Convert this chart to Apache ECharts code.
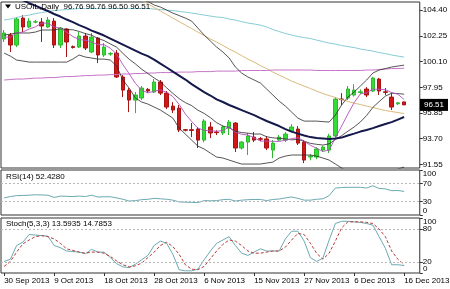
<!DOCTYPE html>
<html><head><meta charset="utf-8">
<script src="https://cdn.jsdelivr.net/npm/echarts@6/dist/echarts.min.js"></script>
<style>html,body{margin:0;padding:0;background:#fff}#c{width:450px;height:289px}</style>
</head><body><div id="c"></div>
<script>
// ---- categories (trading days) ----
const dates = ['30 Sep 2013','1 Oct 2013','2 Oct 2013','3 Oct 2013','4 Oct 2013','6 Oct 2013','7 Oct 2013','8 Oct 2013','9 Oct 2013','10 Oct 2013',
'11 Oct 2013','13 Oct 2013','14 Oct 2013','15 Oct 2013','16 Oct 2013','17 Oct 2013','18 Oct 2013','20 Oct 2013','21 Oct 2013','22 Oct 2013',
'23 Oct 2013','24 Oct 2013','25 Oct 2013','27 Oct 2013','28 Oct 2013','29 Oct 2013','30 Oct 2013','31 Oct 2013','1 Nov 2013','3 Nov 2013',
'4 Nov 2013','5 Nov 2013','6 Nov 2013','7 Nov 2013','8 Nov 2013','10 Nov 2013','11 Nov 2013','12 Nov 2013','13 Nov 2013','14 Nov 2013',
'15 Nov 2013','18 Nov 2013','19 Nov 2013','20 Nov 2013','21 Nov 2013','22 Nov 2013','25 Nov 2013','26 Nov 2013','27 Nov 2013','28 Nov 2013',
'29 Nov 2013','1 Dec 2013','2 Dec 2013','3 Dec 2013','4 Dec 2013','5 Dec 2013','6 Dec 2013','8 Dec 2013','9 Dec 2013','10 Dec 2013',
'11 Dec 2013','12 Dec 2013','13 Dec 2013','15 Dec 2013','16 Dec 2013'];
const emptySlots = ['', ''];

// ---- OHLC ----
const open = [101.99,102.32,101.49,103.73,102.99,103.40,103.40,102.99,103.48,101.49,
102.82,101.36,101.32,102.24,100.91,102.07,100.66,100.74,100.82,98.83,
97.74,96.91,97.08,97.80,97.58,98.41,97.49,96.41,96.24,94.45,
94.45,94.50,93.58,94.67,94.25,94.17,94.58,95.00,92.92,93.42,
93.83,93.70,93.68,92.75,93.58,93.58,94.33,94.50,93.42,92.17,
92.17,92.75,92.75,93.92,97.00,97.08,97.33,97.55,97.83,97.66,
98.66,97.60,97.16,96.60,96.76];
const high = [102.74,102.49,103.82,103.98,103.73,103.57,103.73,103.82,103.73,102.99,
102.90,101.45,102.57,102.49,102.49,102.15,101.65,100.90,101.07,98.99,
97.91,97.58,98.08,97.91,98.66,98.58,97.66,96.74,96.50,94.50,
95.00,94.67,95.33,95.08,94.40,94.80,95.25,95.08,93.50,94.17,
94.25,93.83,93.92,93.58,94.00,94.25,94.90,94.75,93.58,92.40,
93.00,93.10,94.10,97.16,97.49,98.08,98.24,97.80,97.99,98.83,
98.75,97.91,97.49,96.75,96.76];
const low = [101.74,100.91,101.32,102.57,102.90,103.30,101.74,102.90,101.24,101.24,
100.49,101.20,101.24,101.07,100.82,99.99,100.49,100.60,98.75,97.16,
95.91,95.83,96.91,97.50,97.49,97.33,96.16,95.83,94.25,94.30,
93.83,92.92,93.40,93.75,94.00,94.00,94.00,92.59,92.80,92.34,
93.42,93.50,92.75,92.08,93.50,93.42,94.20,93.17,91.67,91.90,
92.00,92.60,92.50,93.83,96.50,96.91,97.20,97.40,97.16,97.58,
97.33,97.33,96.08,96.50,96.50];
const close = [102.49,101.49,103.65,102.99,103.48,103.42,103.07,103.57,101.49,102.90,
101.74,101.28,102.24,101.24,102.15,100.66,101.32,100.78,98.83,97.74,
96.91,97.33,97.91,97.66,98.41,97.49,96.33,96.08,94.42,94.40,
94.38,93.58,95.17,94.17,94.20,94.67,95.08,92.92,93.42,93.92,
93.58,93.65,92.92,93.33,93.83,94.08,94.67,93.33,91.92,92.25,
92.84,93.00,93.92,96.99,96.95,97.83,97.74,97.60,97.33,98.74,
97.66,97.55,96.33,96.68,96.51];

// ---- main panel indicator lines ----
const maCyan = [103.57,103.65,103.78,103.90,103.98,104.11,104.19,104.28,104.36,104.40,
104.44,104.48,104.53,104.53,104.53,104.53,104.53,104.53,104.53,104.53,
104.53,104.53,104.53,104.53,104.48,104.44,104.40,104.36,104.28,104.23,
104.15,104.07,103.98,103.90,103.82,103.78,103.65,103.57,103.44,103.32,
103.24,103.15,102.99,102.78,102.61,102.45,102.32,102.20,102.11,102.03,
101.90,101.78,101.65,101.57,101.45,101.36,101.28,101.16,101.07,100.99,
100.86,100.78,100.66,100.57,100.49];
const maTan = [null,null,null,null,null,null,null,null,null,null,
null,null,null,null,null,null,null,null,null,null,
null,105.56,105.23,104.92,104.62,104.32,104.03,103.73,103.44,103.15,
102.86,102.57,102.28,101.99,101.74,101.45,101.16,100.91,100.61,100.32,
100.07,99.78,99.53,99.24,98.99,98.74,98.49,98.28,98.08,97.87,
97.66,97.45,97.29,97.12,96.95,96.79,96.66,96.54,96.41,96.29,
96.16,96.04,95.96,95.87,95.79];
const maMagenta = [98.58,98.62,98.66,98.66,98.70,98.74,98.74,98.78,98.78,98.83,
98.87,98.87,98.91,98.95,98.95,98.99,98.99,99.03,99.03,99.08,
99.08,99.12,99.12,99.16,99.16,99.20,99.20,99.20,99.24,99.24,
99.24,99.28,99.28,99.28,99.32,99.32,99.32,99.32,99.37,99.37,
99.37,99.37,99.37,99.41,99.41,99.41,99.41,99.41,99.41,99.41,
99.37,99.37,99.37,99.37,99.37,99.37,99.37,99.37,99.41,99.41,
99.45,99.49,99.53,99.53,99.57];
const bbMid = [105.90,105.69,105.44,105.23,104.98,104.77,104.53,104.32,104.07,103.86,
103.61,103.40,103.15,102.94,102.69,102.49,102.28,102.03,101.78,101.53,
101.28,101.03,100.78,100.57,100.28,99.95,99.62,99.28,98.95,98.62,
98.24,97.91,97.58,97.29,96.97,96.75,96.50,96.29,96.08,95.87,
95.66,95.41,95.17,94.96,94.75,94.50,94.29,94.12,93.96,93.83,
93.75,93.71,93.67,93.71,93.79,93.96,94.12,94.29,94.42,94.58,
94.75,94.92,95.08,95.29,95.50];
const bbUpper = [null,null,null,null,null,null,null,null,null,null,
null,null,null,null,null,null,null,null,null,null,
null,105.48,105.32,105.11,104.82,104.65,104.40,104.15,103.94,103.73,
103.48,102.90,102.32,101.82,101.32,100.91,100.41,99.66,99.16,98.83,
98.58,98.33,97.83,97.33,96.83,96.41,95.91,95.41,95.16,95.16,
95.16,95.12,95.08,95.66,96.50,97.16,97.58,98.08,98.58,99.16,
99.41,99.53,99.66,99.74,99.82];
const bbLower = [100.82,100.57,100.24,100.16,100.07,100.07,100.07,100.07,100.07,100.07,
100.07,100.32,100.66,100.49,100.41,100.32,100.32,100.24,99.74,98.58,
97.91,97.08,96.75,96.58,96.33,96.08,95.75,95.41,94.58,94.08,
93.58,93.08,92.84,92.50,92.17,92.09,91.92,91.75,91.59,91.59,
91.59,91.59,91.67,91.75,92.09,92.25,92.34,92.34,92.34,92.34,
92.25,92.09,91.92,91.59,91.26,90.92,90.67,90.50,90.42,90.42,
90.50,90.67,90.92,91.17,91.34];
const maFast = [102.15,102.15,102.49,102.57,102.82,103.00,103.32,103.30,103.00,102.89,
102.55,102.20,101.94,101.89,101.74,101.52,101.52,101.22,100.74,99.86,
99.11,98.31,97.74,97.51,97.64,97.76,97.56,97.20,96.55,95.75,
95.13,94.58,94.40,94.35,94.32,94.37,94.67,94.22,94.07,94.00,
93.78,93.50,93.50,93.48,93.47,93.57,93.70,93.78,93.50,93.15,
92.90,92.64,92.75,93.77,94.75,95.75,96.70,97.43,97.51,97.82,
97.81,97.78,97.53,97.40,96.95];
const maSlow = [102.32,102.40,102.49,102.49,102.49,102.57,102.74,102.74,102.74,102.85,
102.78,102.76,102.62,102.44,102.31,102.04,101.86,101.58,101.31,100.80,
100.31,99.92,99.48,99.12,98.75,98.43,97.93,97.47,97.03,96.70,
96.45,96.07,95.80,95.45,95.03,94.75,94.62,94.31,94.21,94.16,
94.08,94.09,93.86,93.77,93.73,93.68,93.60,93.64,93.49,93.31,
93.23,93.17,93.27,93.63,93.95,94.32,94.67,95.09,95.63,96.30,
96.78,97.24,97.48,97.45,97.40];

// ---- oscillators ----
const rsi = [38,41,43,43.5,44,45,44.5,44,39,42,
41.5,41,42,41,44,40,40.5,40.5,38,35,
31,32,34,35,37,36,35,33,29,28.5,
28,27.5,32,31.5,32,34,35,31,33,34,
34.5,34.5,32,34.5,35.5,38,40,37,33,33,
35,36,43,60,61,61.5,61.5,61.5,60,65,
59,58,54,54.5,52.43];
const stochK = [21,25,50,56,70,69,68,67,50,46,
40,39,38,35,43,38,38,28,17,11,
10,16,24,32,50,58,54,34,6,4,
4,7,24,40,54,60,66,50,36,32,
38,44,40,40,40,62,76,76,58,28,
21,27,60,90,94,94,93,92,90,87,
66,45,15,15,13.59];
const stochD = [12,21,38,53,60,66,68,66,62,54,
44,41,38,36,38,38,36,30,22,15,
11,13,18,28,38,50,56,48,34,15,
7,6,12,26,40,52,60,58,50,40,
36,36,38,40,40,47,60,72,70,54,
36,25,36,58,82,93,93,93,92,90,
80,66,40,25,14.79];

// ---- ticks / levels / texts ----
const priceTicks = [91.55, 93.70, 95.85, 97.95, 100.10, 102.25, 104.40];
const rsiTicks = [0, 30, 70, 100];
const rsiLevels = [30, 70];
const stochInnerTicks = [20, 80];
const stochEdgeTicks = [0, 100];
const stochLevels = [20, 80];
const headerText = 'USOIL,Daily  96.76 96.76 96.50 96.51';
const rsiText = 'RSI(14) 52.4280';
const stochText = 'Stoch(5,3,3) 13.5935 14.7853';

const FONT = '"Liberation Sans", Arial, sans-serif';
const FS = 8;
const cats = dates.concat(emptySlots);
const chart = echarts.init(document.getElementById('c'), null, {renderer: 'canvas'});

const gridBase = {left: 1, width: 418.75, show: true, borderColor: '#333', borderWidth: 1, outerBoundsMode: 'none'};
const grids = [
  Object.assign({top: 2, height: 166}, gridBase),
  Object.assign({top: 170, height: 45}, gridBase),
  Object.assign({top: 218, height: 55}, gridBase)
];

const xAxes = [0, 1, 2].map(k => ({
  type: 'category', gridIndex: k, data: cats, boundaryGap: true,
  axisLine: {show: false},
  axisTick: {show: k === 2, interval: 7, alignWithLabel: true, length: 3, lineStyle: {color: '#333'}},
  axisLabel: {show: k === 2, interval: 7, align: 'left', margin: 4, fontSize: FS, color: '#000', fontFamily: FONT},
  splitLine: {show: false}
}));

function yAx(k, min, max, ticks, labelTicks, fmt) {
  return {
    type: 'value', gridIndex: k, position: 'right', min: min, max: max,
    axisLine: {show: false},
    axisTick: {show: true, length: 3, customValues: ticks, lineStyle: {color: '#333'}},
    axisLabel: {customValues: labelTicks, formatter: fmt, margin: 3, fontSize: FS, color: '#000', fontFamily: FONT,
      hideOverlap: false, showMinLabel: true, showMaxLabel: true,
      verticalAlignMinLabel: k === 1 ? 'bottom' : 'middle', verticalAlignMaxLabel: k === 1 ? 'top' : 'middle'},
    splitLine: {show: false}
  };
}
const yAxes = [
  yAx(0, 91.26, 105.07, priceTicks, priceTicks, v => v.toFixed(2)),
  yAx(1, 0, 100, rsiTicks, rsiTicks, v => String(v)),
  yAx(2, 0, 100, stochInnerTicks.concat(stochEdgeTicks), stochInnerTicks, v => String(v))
];

function line(data, color, width, z, extra) {
  return Object.assign({type: 'line', xAxisIndex: 0, yAxisIndex: 0, data: data, symbol: 'none', silent: true,
    clip: true, z: z, lineStyle: {color: color, width: width}, connectNulls: false}, extra || {});
}
function levels(vals) {
  return {silent: true, symbol: 'none', label: {show: false}, animation: false,
    lineStyle: {type: [2, 2], color: '#b8b8b8', width: 1}, data: vals.map(v => ({yAxis: v}))};
}

const ohlc = open.map((o, i) => [o, close[i], low[i], high[i]]);

const option = {
  animation: false,
  backgroundColor: '#ffffff',
  grid: grids,
  xAxis: xAxes,
  yAxis: yAxes,
  series: [
    {type: 'candlestick', xAxisIndex: 0, yAxisIndex: 0, data: ohlc, barWidth: 4, z: 2, silent: true,
      itemStyle: {color: '#33dd33', color0: '#d01818', borderColor: '#2fb82f', borderColor0: '#a81414', borderWidth: 1}},
    line(maCyan, '#86cdd6', 1, 3),
    line(maTan, '#d9b97c', 1, 3),
    line(maMagenta, '#c774c8', 1, 3),
    line(bbUpper, '#2a2a2a', 0.8, 4),
    line(bbLower, '#2a2a2a', 0.8, 4),
    line(maSlow, '#2a2a2a', 0.8, 4),
    line(maFast, '#b050c0', 0.9, 4),
    line(bbMid, '#14184a', 2, 5),
    Object.assign(line(rsi, '#6aaab2', 1, 3), {xAxisIndex: 1, yAxisIndex: 1, markLine: levels(rsiLevels)}),
    Object.assign(line(stochK, '#6aaab2', 1, 3), {xAxisIndex: 2, yAxisIndex: 2, markLine: levels(stochLevels)}),
    Object.assign(line(stochD, '#b83a3a', 1, 4), {xAxisIndex: 2, yAxisIndex: 2, lineStyle: {color: '#b83a3a', width: 1, type: [3, 2]}})
  ]
};
chart.setOption(option);

const lastClose = close[close.length - 1];
const tagY = chart.convertToPixel({yAxisIndex: 0}, lastClose);
const edgeLabels = stochEdgeTicks.map(v => {
  const py = chart.convertToPixel({yAxisIndex: 2}, v);
  return {type: 'text', x: 423, y: py, style: {text: String(v), fontSize: FS, fontFamily: FONT, fill: '#000',
    verticalAlign: v === 0 ? 'bottom' : 'top'}, z: 20};
});
chart.setOption({
  graphic: [
    {type: 'polygon', shape: {points: [[5, 4.5], [11, 4.5], [8, 8.5]]}, style: {fill: '#000'}, z: 20},
    {type: 'text', x: 15, y: 7, style: {text: headerText, fontSize: FS, fontFamily: FONT, fill: '#000', verticalAlign: 'middle'}, z: 20},
    {type: 'text', x: 6, y: 177, style: {text: rsiText, fontSize: FS, fontFamily: FONT, fill: '#000', verticalAlign: 'middle'}, z: 20},
    {type: 'text', x: 6, y: 224, style: {text: stochText, fontSize: FS, fontFamily: FONT, fill: '#000', verticalAlign: 'middle'}, z: 20},
    {type: 'rect', shape: {x: 420, y: tagY - 6, width: 28, height: 12}, style: {fill: '#000'}, z: 20},
    {type: 'text', x: 434, y: tagY, style: {text: lastClose.toFixed(2), fontSize: FS, fontFamily: FONT, fill: '#fff', align: 'center', verticalAlign: 'middle'}, z: 21}
  ].concat(edgeLabels)
});
</script></body></html>
